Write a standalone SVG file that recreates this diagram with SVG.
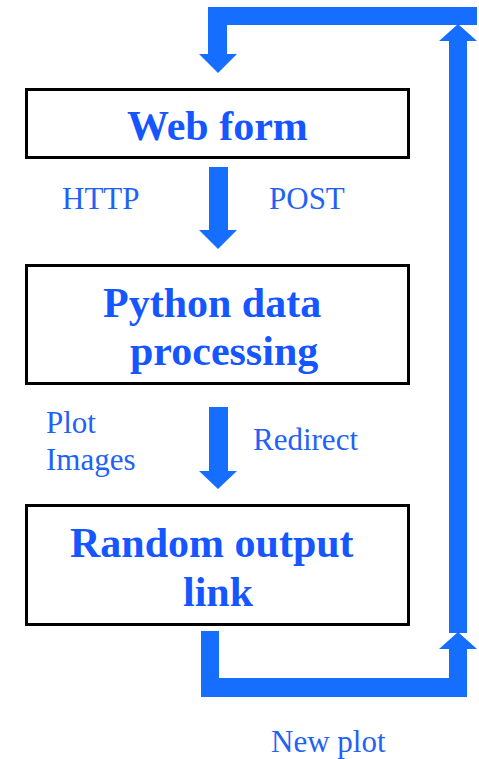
<svg xmlns="http://www.w3.org/2000/svg" width="479" height="759" viewBox="0 0 479 759">
<style>
.box{fill:#fff;stroke:#000;stroke-width:3}
.title{font-family:"Liberation Serif","Times New Roman",serif;font-weight:bold;font-size:42px;fill:#1656ff}
.lbl{font-family:"Liberation Serif","Times New Roman",serif;font-size:31px;fill:#1f62f5}
.arr{fill:#166eff;stroke:none}
</style>
<rect width="479" height="759" fill="#fff"/>
<g id="connectors">
<polygon class="arr" points="477,7 477,25 227,25 227,54 237,54 218,73 199,54 208,54 208,7"/>
<rect class="arr" x="449" y="40" width="18" height="593"/>
<polygon class="arr" points="439,41 458,24 477,41"/>
<polygon class="arr" points="201,631 219,631 219,678 449,678 449,649 439,649 458,632 477,649 467,649 467,697 201,697"/>
<polygon class="arr" points="209,167 228,167 228,230 237,230 218,249 199,230 209,230"/>
<polygon class="arr" points="209,407 228,407 228,471 237,471 218,489 199,471 209,471"/>
</g>
<g id="webform">
<rect class="box" x="26.5" y="89.5" width="382" height="68"/>
<text class="title" x="127" y="140">Web form</text>
</g>
<g id="python">
<rect class="box" x="26.5" y="265.5" width="382" height="118"/>
<text class="title" x="103" y="317">Python data</text>
<text class="title" x="130" y="365">processing</text>
</g>
<g id="random">
<rect class="box" x="26.5" y="505.5" width="382" height="119"/>
<text class="title" x="70" y="557">Random output</text>
<text class="title" x="183" y="606">link</text>
</g>
<g id="labels">
<text class="lbl" x="62" y="209">HTTP</text>
<text class="lbl" x="269" y="209">POST</text>
<text class="lbl" x="46" y="433">Plot</text>
<text class="lbl" x="46" y="470">Images</text>
<text class="lbl" x="253" y="450">Redirect</text>
<text class="lbl" x="271" y="752">New plot</text>
</g>
</svg>
